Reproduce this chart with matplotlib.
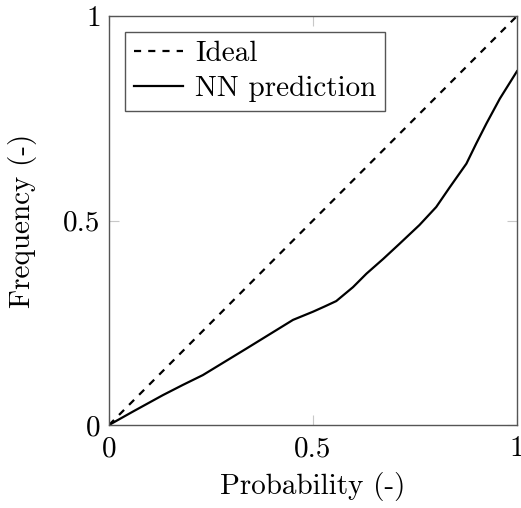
import numpy as np
import matplotlib
matplotlib.use("Agg")
import matplotlib.pyplot as plt

plt.rcParams['font.family'] = 'serif'
plt.rcParams['font.serif'] = ['cmr10']
plt.rcParams['mathtext.fontset'] = 'cm'
plt.rcParams['axes.formatter.use_mathtext'] = True

# reliability curve
prob = [0.0, 0.059, 0.132, 0.181, 0.230, 0.337, 0.394, 0.451, 0.500,
        0.529, 0.557, 0.598, 0.631, 0.672, 0.712, 0.761, 0.802, 0.835,
        0.876, 0.900, 0.925, 0.958, 1.0]
freq = [0.0, 0.033, 0.073, 0.098, 0.122, 0.187, 0.222, 0.257, 0.277,
        0.290, 0.303, 0.337, 0.370, 0.406, 0.443, 0.489, 0.533, 0.581,
        0.639, 0.688, 0.737, 0.798, 0.865]
ideal = [0.0, 1.0]
tick_vals = [0, 0.5, 1]
tick_labels = ['0', '0.5', '1']

fig = plt.figure(figsize=(5.21, 5.08), dpi=100)
ax = fig.add_axes([109 / 521, 1 - 425 / 508, 408 / 521, 409 / 508])

ax.plot(ideal, ideal, 'k--', lw=1.6, dashes=(3.2, 3.2), label='Ideal')
ax.plot(prob, freq, 'k-', lw=1.6, label='NN prediction')

ax.set_xlim(0, 1)
ax.set_ylim(0, 1)
ax.set_xticks(tick_vals)
ax.set_xticklabels(tick_labels)
ax.set_yticks(tick_vals)
ax.set_yticklabels(tick_labels)
ax.tick_params(direction='in', length=7, width=0.8, color='#c8c8c8',
               top=True, right=True, labelsize=21, pad=6)
ax.tick_params(axis='x', pad=8)
for s in ax.spines.values():
    s.set_color('#555555')
    s.set_linewidth(1.0)

ax.set_xlabel('Probability (-)', fontsize=21, labelpad=7)
ax.set_ylabel('Frequency (-)', fontsize=21, labelpad=19)

leg = ax.legend(loc='upper left', fontsize=21, fancybox=False, framealpha=1,
                edgecolor='#555555', handlelength=1.7, handletextpad=0.4,
                borderpad=0.3, labelspacing=0.3, borderaxespad=0.55)
leg.get_frame().set_linewidth(1.0)

fig.savefig('out.png', dpi=100)
